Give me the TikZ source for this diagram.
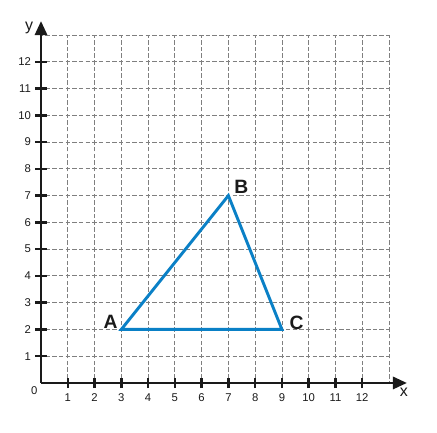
\documentclass[tikz,border=0pt]{standalone}
\usepackage{fontspec}
\setmainfont{Liberation Sans}
\usetikzlibrary{arrows.meta}
\definecolor{triblue}{HTML}{0A80C6}
\definecolor{gridgray}{HTML}{7F7F7F}
\definecolor{axisblack}{HTML}{1A1A1A}
\tikzset{
  gridline/.style={draw=gridgray, line width=0.9pt, dash pattern=on 4.7pt off 2.4pt, dash phase=2.35pt},
  axisline/.style={draw=axisblack, line width=2.8pt, -{Triangle[length=15pt,width=13pt]}},
  tickline/.style={draw=axisblack, line width=2.6pt},
  ticklabel/.style={font=\fontsize{12}{12}\selectfont, text=axisblack, inner sep=0pt},
  axislabel/.style={font=\fontsize{17}{17}\selectfont, text=axisblack, inner sep=0pt},
  vertexlabel/.style={font=\fontsize{20.5}{20.5}\selectfont\bfseries, text=axisblack, inner sep=0pt},
  triside/.style={draw=triblue, line width=3.1pt, line join=miter}
}
\begin{document}
\begin{tikzpicture}
\useasboundingbox (-1.532,-1.868) rectangle (14.793,14.307);
% grid
\foreach \i in {1,...,13} {
  \draw[gridline] (\i,0) -- (\i,13);
  \draw[gridline] (0,\i) -- (13,\i);
}
% axes
\coordinate (O) at (0,0);
\coordinate (xend) at (13.67,0);
\coordinate (yend) at (0,13.52);
\draw[axisline] (O) -- (xend);
\draw[axisline] (O) -- (yend);
% ticks and labels
\foreach \i in {1,...,12} {
  \draw[tickline] (\i,-0.19) -- (\i,0.19);
  \draw[tickline] (-0.22,\i) -- (0.22,\i);
  \node[ticklabel] (xl\i) at (\i,-0.56) {\i};
  \node[ticklabel, anchor=east] (yl\i) at (-0.37,\i) {\i};
}
\node[ticklabel] (zero) at (-0.25,-0.28) {0};
\node[axislabel] (xlab) at (13.56,-0.36) {x};
\node[axislabel] (ylab) at (-0.44,13.28) {y};
% triangle
\coordinate (A) at (3,2);
\coordinate (B) at (7,7);
\coordinate (C) at (9,2);
\draw[triside] (A) -- (B) -- (C) -- cycle;
\node[vertexlabel] (la) at (2.6,2.27) {A};
\node[vertexlabel] (lb) at (7.48,7.33) {B};
\node[vertexlabel] (lc) at (9.55,2.25) {C};
\end{tikzpicture}
\end{document}
